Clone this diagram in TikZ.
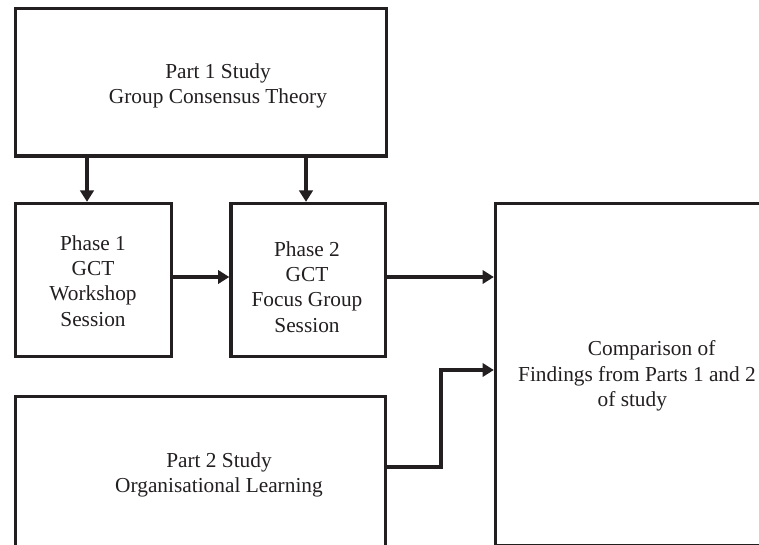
\documentclass[tikz,border=0pt]{standalone}
\usepackage{fontspec}
\setmainfont{Liberation Serif}
\usetikzlibrary{arrows.meta}
\definecolor{ink}{RGB}{35,31,32}
\begin{document}
\begin{tikzpicture}[x=0.75pt,y=-0.75pt,
  box/.style={draw=ink, line width=2.5pt, inner sep=0pt, rectangle},
  txt/.style={font=\fontsize{16}{19}\selectfont, align=center, text=ink, inner sep=0pt},
  arr/.style={draw=ink, line width=2.5pt, -{Triangle[length=8.5pt,width=10pt]}}]
\useasboundingbox (0,0) rectangle (759,545);
\clip (0,0) rectangle (759,545);
% boxes
\node[box, minimum width=278.25pt, minimum height=110.625pt] (p1) at (201,82.25) {};
\node[box, minimum width=117pt, minimum height=114.75pt] (ph1) at (93.5,280) {};
\node[box, minimum width=115.875pt, minimum height=114.75pt] (ph2) at (308.25,280) {};
\node[box, minimum width=243.375pt, minimum height=256.5pt] (comp) at (657.75,374.5) {};
\node[box, minimum width=277.5pt, minimum height=167.625pt] (p2) at (200.5,508.25) {};
% texts
\node[txt] (t1) at (218,86) {Part 1 Study\\Group Consensus Theory};
\node[txt] (t2) at (93,281) {Phase 1\\GCT\\Workshop\\Session};
\node[txt] (t3) at (307,287) {Phase 2\\GCT\\Focus Group\\Session};
\node[txt] (t4) at (637,376) {\hspace*{22pt}Comparison of\\Findings from Parts 1 and 2\\of study\hspace*{7pt}};
\node[txt] (t5) at (219,475) {Part 2 Study\\Organisational Learning};
% helper coordinates
\coordinate (xa) at (87,0);
\coordinate (xb) at (306,0);
\coordinate (ya) at (0,277);
\coordinate (yb) at (0,467);
\coordinate (yc) at (0,370);
\coordinate (bend1) at (441,467);
\coordinate (bend2) at (441,370);
% connectors
\draw[arr] (p1.south -| xa) -- (ph1.north -| xa);
\draw[arr] (p1.south -| xb) -- (ph2.north -| xb);
\draw[arr] (ph1.east |- ya) -- (ph2.west |- ya);
\draw[arr] (ph2.east |- ya) -- (comp.west |- ya);
\draw[arr] (p2.east |- yb) -- (bend1) -- (bend2) -- (comp.west |- yc);
\end{tikzpicture}
\end{document}
